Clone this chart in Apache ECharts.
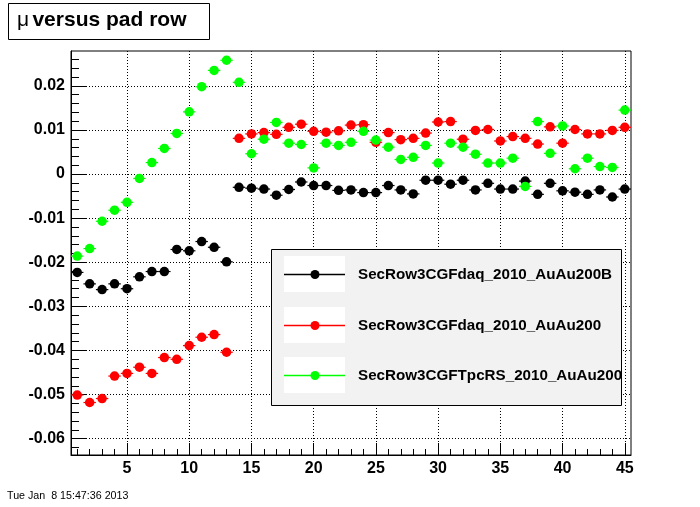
<!DOCTYPE html>
<html><head><meta charset="utf-8">
<script src="https://cdn.jsdelivr.net/npm/echarts@6/dist/echarts.min.js"></script>
<style>html,body{margin:0;padding:0;background:#fff}#c{width:700px;height:507px}</style>
</head><body><div id="c"></div>
<script>
// ---- data ----
const padRows = [1,2,3,4,5,6,7,8,9,10,11,12,13,14,15,16,17,18,19,20,21,22,23,24,25,26,27,28,29,30,31,32,33,34,35,36,37,38,39,40,41,42,43,44,45];
const muAuAu200B = [-0.0223,-0.0249,-0.0262,-0.0249,-0.0260,-0.0233,-0.0221,-0.0221,-0.0171,-0.0174,-0.0153,-0.0166,-0.0199,
  -0.0030,-0.0032,-0.0034,-0.0048,-0.0035,-0.0018,-0.0026,-0.0026,-0.0037,-0.0036,-0.0042,-0.0042,-0.0026,-0.0036,-0.0045,-0.0014,
  -0.0014,-0.0023,-0.0014,-0.0036,-0.0021,-0.0034,-0.0034,-0.0016,-0.0046,-0.0021,-0.0038,-0.0041,-0.0046,-0.0036,-0.0052,-0.0034];
const muAuAu200 = [-0.0501,-0.0518,-0.0509,-0.0458,-0.0452,-0.0438,-0.0452,-0.0416,-0.0420,-0.0389,-0.0370,-0.0364,-0.0404,
  0.0081,0.0091,0.0094,0.0090,0.0106,0.0113,0.0097,0.0095,0.0098,0.0111,0.0112,0.0072,0.0094,0.0078,0.0081,0.0093,
  0.0118,0.0119,0.0079,0.0099,0.0101,0.0075,0.0085,0.0081,0.0068,0.0107,0.0070,0.0101,0.0091,0.0091,0.0099,0.0106];
const muTpcRS = [-0.0186,-0.0169,-0.0107,-0.0082,-0.0064,-0.0010,0.0026,0.0058,0.0092,0.0141,0.0198,0.0235,0.0258,
  0.0208,0.0046,0.0079,0.0117,0.0070,0.0067,0.0014,0.0070,0.0065,0.0072,0.0097,0.0077,0.0061,0.0033,0.0038,0.0065,
  0.0025,0.0070,0.0061,0.0045,0.0025,0.0025,0.0036,-0.0028,0.0119,0.0047,0.0109,0.0012,0.0036,0.0017,0.0015,0.0145];
const seriesNames = ['SecRow3CGFdaq_2010_AuAu200B','SecRow3CGFdaq_2010_AuAu200','SecRow3CGFTpcRS_2010_AuAu200'];
const seriesColors = ['#000000','#ff0000','#00ff00'];
const xTickLabels = [5,10,15,20,25,30,35,40,45];
const yTickLabels = [-0.06,-0.05,-0.04,-0.03,-0.02,-0.01,0,0.01,0.02];
const titleText = 'versus pad row';
const dateText = 'Tue Jan  8 15:47:36 2013';

// minor tick positions
const xMinor = padRows.slice();
const yMinor = [];
for (let k = -31; k <= 13; k++) yMinor.push(Math.round(k * 2) / 1000);

const allSeries = [muAuAu200B, muAuAu200, muTpcRS];
const FONT = 'Liberation Sans, Arial, sans-serif';

function errRender(color) {
  return function (params, api) {
    const x = api.value(0), y = api.value(1);
    const p1 = api.coord([x - 0.5, y]);
    const p2 = api.coord([x + 0.5, y]);
    return { type: 'line', shape: { x1: p1[0], y1: p1[1], x2: p2[0], y2: p2[1] },
      style: { stroke: color, lineWidth: 1.2 } };
  };
}

const series = [];
allSeries.forEach((vals, i) => {
  const d = padRows.map((r, j) => [r, vals[j]]);
  series.push({ type: 'custom', name: seriesNames[i], xAxisIndex: 0, yAxisIndex: 0,
    renderItem: errRender(seriesColors[i]), data: d, encode: { x: 0, y: 1 }, z: 2 + i * 2, silent: true });
  series.push({ type: 'scatter', name: seriesNames[i], xAxisIndex: 0, yAxisIndex: 0,
    symbol: 'circle', symbolSize: 9.5, itemStyle: { color: seriesColors[i], opacity: 1 },
    data: d, z: 3 + i * 2, silent: true });
});

const black = { color: '#000', width: 1 };
const opt = {
  animation: false,
  backgroundColor: '#fff',
  grid: { left: 71, top: 51, width: 560, height: 404, show: true, borderColor: '#000', borderWidth: 1, backgroundColor: 'transparent' },
  xAxis: [
    { type: 'value', min: 0.5, max: 45.5, position: 'bottom',
      axisLine: { show: true, onZero: false, lineStyle: black },
      axisTick: { show: true, inside: true, length: 12, customValues: xTickLabels, lineStyle: black },
      axisLabel: { show: true, customValues: xTickLabels, color: '#000', fontSize: 16, fontWeight: 'bold', fontFamily: FONT, margin: 6 },
      splitLine: { show: true, lineStyle: { color: '#000', width: 1, type: [1, 2] } } },
    { type: 'value', min: 0.5, max: 45.5, position: 'bottom',
      axisLine: { show: false, onZero: false },
      axisTick: { show: true, inside: true, length: 6, customValues: xMinor, lineStyle: black },
      axisLabel: { show: false }, splitLine: { show: false } }
  ],
  yAxis: [
    { type: 'value', min: -0.0637, max: 0.0279, position: 'left',
      axisLine: { show: true, onZero: false, lineStyle: black },
      axisTick: { show: true, inside: true, length: 16, customValues: yTickLabels, lineStyle: black },
      axisLabel: { show: true, customValues: yTickLabels, color: '#000', fontSize: 16, fontWeight: 'bold', fontFamily: FONT, margin: 6,
        formatter: v => (Math.abs(v) < 1e-9 ? '0' : (+v).toFixed(2)) },
      splitLine: { show: true, lineStyle: { color: '#000', width: 1, type: [1, 2] } } },
    { type: 'value', min: -0.0637, max: 0.0279, position: 'left',
      axisLine: { show: false, onZero: false },
      axisTick: { show: true, inside: true, length: 8, customValues: yMinor, lineStyle: black },
      axisLabel: { show: false }, splitLine: { show: false } }
  ],
  series: series,
  graphic: [
    // title box
    { type: 'rect', left: 8, top: 3, shape: { width: 201, height: 36 }, style: { fill: '#fff', stroke: '#000', lineWidth: 1 }, z: 10 },
    { type: 'text', left: 17, top: 10, z: 11,
      style: { text: '{m|\u03bc} {b|' + titleText + '}', rich: {
        m: { fontSize: 21, fontFamily: FONT, fill: '#000' },
        b: { fontSize: 21, fontWeight: 'bold', fontFamily: FONT, fill: '#000' } } } },
    // legend box
    { type: 'rect', left: 271, top: 249, shape: { width: 350, height: 156 }, style: { fill: '#f2f2f2', stroke: '#000', lineWidth: 1 }, z: 20 },
    ...[0, 1, 2].flatMap(i => {
      const top = [256, 307, 357][i];
      const cy = top + 18.5;
      return [
        { type: 'rect', shape: { x: 284, y: top, width: 61, height: 36 }, style: { fill: '#fff' }, z: 21 },
        { type: 'line', shape: { x1: 284, y1: cy, x2: 345, y2: cy }, style: { stroke: seriesColors[i], lineWidth: 1.3 }, z: 22 },
        { type: 'circle', shape: { cx: 315, cy: cy, r: 4.5 }, style: { fill: seriesColors[i] }, z: 23 },
        { type: 'text', x: 358, y: cy, z: 22,
          style: { text: seriesNames[i], fontSize: 15.2, fontWeight: 'bold', fontFamily: FONT, fill: '#000', verticalAlign: 'middle', align: 'left' } }
      ];
    }),
    // date stamp
    { type: 'text', x: 7, y: 496, z: 10,
      style: { text: dateText, fontSize: 10.7, fontFamily: FONT, fill: '#000', verticalAlign: 'middle', align: 'left' } }
  ]
};
const chart = echarts.init(document.getElementById('c'), null, { renderer: 'canvas' });
chart.setOption(opt);
</script>
</body></html>
